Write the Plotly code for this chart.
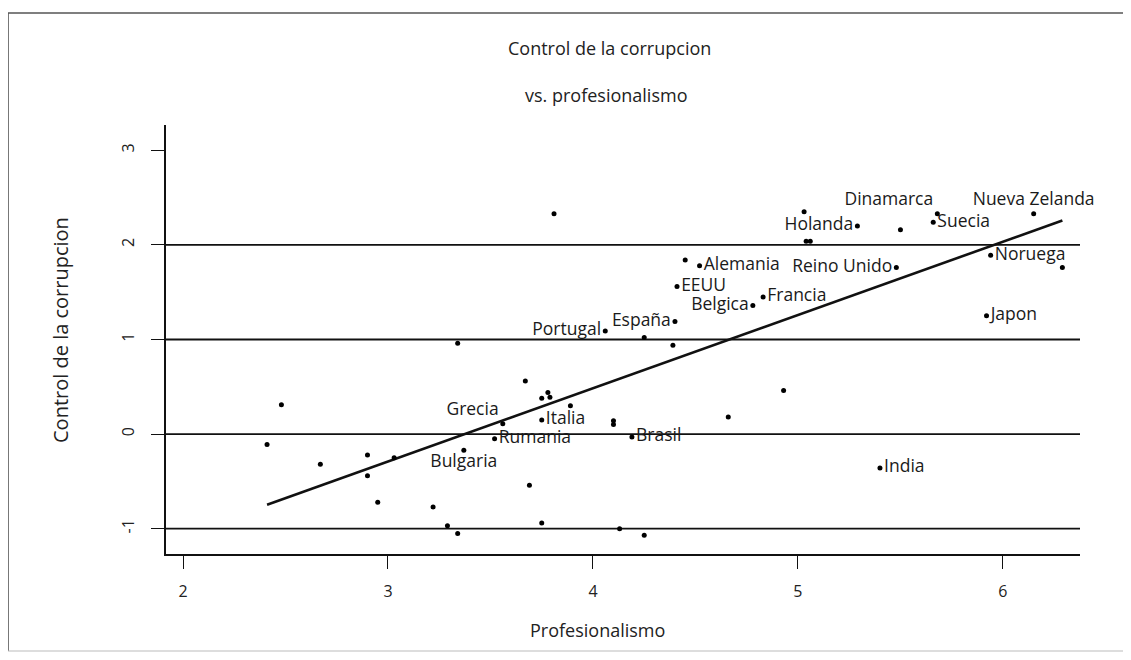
import plotly.graph_objects as go

# ---- data ----
profesionalismo = [3.81, 5.03, 5.04, 5.06, 5.29, 5.50, 5.68, 5.66, 6.15, 5.94, 6.29, 5.48,
                   4.45, 4.52, 4.41, 4.83, 4.78, 4.40, 4.06, 4.25, 4.39, 3.34, 5.92,
                   2.48, 2.41, 2.67, 2.90, 3.03, 2.90, 2.95, 3.22, 3.29, 3.34, 3.37,
                   3.56, 3.67, 3.75, 3.78, 3.79, 3.89, 3.75, 4.10, 4.10, 4.66, 4.93,
                   3.52, 4.19, 3.69, 3.75, 4.13, 4.25, 5.40]
control = [2.33, 2.35, 2.04, 2.04, 2.20, 2.16, 2.33, 2.24, 2.33, 1.89, 1.76, 1.76,
           1.84, 1.78, 1.56, 1.45, 1.36, 1.19, 1.09, 1.02, 0.94, 0.96, 1.25,
           0.31, -0.11, -0.32, -0.22, -0.25, -0.44, -0.72, -0.77, -0.97, -1.05, -0.17,
           0.11, 0.56, 0.38, 0.44, 0.39, 0.30, 0.15, 0.14, 0.10, 0.18, 0.46,
           -0.05, -0.03, -0.54, -0.94, -1.00, -1.07, -0.36]
paises = ["", "", "", "", "Holanda", "", "Dinamarca", "Suecia", "Nueva Zelanda", "Noruega", "", "Reino Unido",
          "", "Alemania", "EEUU", "Francia", "Belgica", "España", "Portugal", "", "", "", "Japon",
          "", "", "", "", "", "", "", "", "", "", "Bulgaria",
          "Grecia", "", "", "", "", "", "Italia", "", "", "", "",
          "Rumania", "Brasil", "", "", "", "", "India"]
lineas_ref = [-1, 0, 1, 2]
x_ticks = [2, 3, 4, 5, 6]
y_ticks = [-1, 0, 1, 2, 3]
y_ticktext = ["-1", "0", "1", "2", "3"]
intercepto = -2.613
pendiente = 0.7745

# ---- label placement (style) ----
pos_etiqueta = {
    "Holanda": "middle left", "Dinamarca": "top left", "Suecia": "middle right",
    "Nueva Zelanda": "top center", "Noruega": "middle right", "Reino Unido": "middle left",
    "Alemania": "middle right", "EEUU": "middle right", "Francia": "middle right",
    "Belgica": "middle left", "España": "middle left", "Portugal": "middle left",
    "Japon": "middle right", "Bulgaria": "bottom center", "Grecia": "top left",
    "Italia": "middle right", "Rumania": "middle right", "Brasil": "middle right",
    "India": "middle right",
}
textpos = [pos_etiqueta.get(p, "middle right") for p in paises]

FONT = "Open Sans"
OFF = 8  # page offset of the figure inside the browser window
W, H = 1123, 644
L, T = 166 - OFF, 125 - OFF
R = W - (1080 - OFF)
B = H - (554 - OFF)
pw, ph = W - L - R, H - T - B

def px(x):
    return (x - OFF - L) / pw

def py(y):
    return (H - B - (y - OFF)) / ph

fig = go.Figure()

# regression line
xmin, xmax = min(profesionalismo), max(profesionalismo)
fig.add_trace(go.Scatter(
    x=[xmin, xmax], y=[intercepto + pendiente * xmin, intercepto + pendiente * xmax],
    mode="lines", line=dict(color="#111111", width=2.6), hoverinfo="skip", showlegend=False))

fig.add_trace(go.Scatter(
    x=profesionalismo, y=control, mode="markers+text", text=paises,
    textposition=textpos, textfont=dict(family=FONT, size=17.5, color="#1a1a1a"),
    marker=dict(color="#000000", size=5), showlegend=False, cliponaxis=False))

for v in lineas_ref:
    fig.add_hline(y=v, line=dict(color="#111111", width=1.8), layer="below")

fig.update_xaxes(range=[1.917, 6.376], tickvals=x_ticks, ticks="outside", ticklen=13,
                 tickwidth=1.3, tickcolor="#111", showline=True, linecolor="#111", linewidth=1.6,
                 showgrid=False, zeroline=False, ticklabelstandoff=9,
                 tickfont=dict(family=FONT, size=16, color="#222"))
fig.update_yaxes(range=[-1.268, 3.268], tickvals=y_ticks, ticktext=y_ticktext, ticks="outside", ticklen=13,
                 tickwidth=1.3, tickcolor="#111", showline=True, linecolor="#111", linewidth=1.6,
                 showgrid=False, zeroline=False, tickangle=-90, ticklabelstandoff=11,
                 tickfont=dict(family=FONT, size=16, color="#222"))

annots = [
    dict(text="Control de la corrupcion", x=px(609), y=py(48), size=18),
    dict(text="vs. profesionalismo", x=px(606), y=py(95), size=18),
    dict(text="Profesionalismo", x=px(597), y=py(630), size=18),
]
for a in annots:
    fig.add_annotation(text=a["text"], x=a["x"], y=a["y"], xref="paper", yref="paper",
                       xanchor="center", yanchor="middle", showarrow=False,
                       font=dict(family=FONT, size=a["size"], color="#222"))
fig.add_annotation(text="Control de la corrupcion", x=px(60), y=py(330), xref="paper", yref="paper",
                   xanchor="center", yanchor="middle", showarrow=False, textangle=-90,
                   font=dict(family=FONT, size=20, color="#222"))

# outer frame: top and left edges (right/bottom edges lie at the picture's border)
frame = dict(color="#555555", width=1.6)
fig.add_shape(type="line", xref="paper", yref="paper", x0=px(8), x1=px(1131), y0=py(13), y1=py(13), line=frame)
fig.add_shape(type="line", xref="paper", yref="paper", x0=px(8), x1=px(8), y0=py(13), y1=py(651), line=frame)
fig.add_shape(type="line", xref="paper", yref="paper", x0=px(8), x1=px(1131), y0=py(651), y1=py(651),
              line=dict(color="#bbbbbb", width=1.2))

fig.update_layout(width=W, height=H, margin=dict(l=L, r=R, t=T, b=B),
                  plot_bgcolor="white", paper_bgcolor="white",
                  font=dict(family=FONT))

fig.write_html("out.html")
